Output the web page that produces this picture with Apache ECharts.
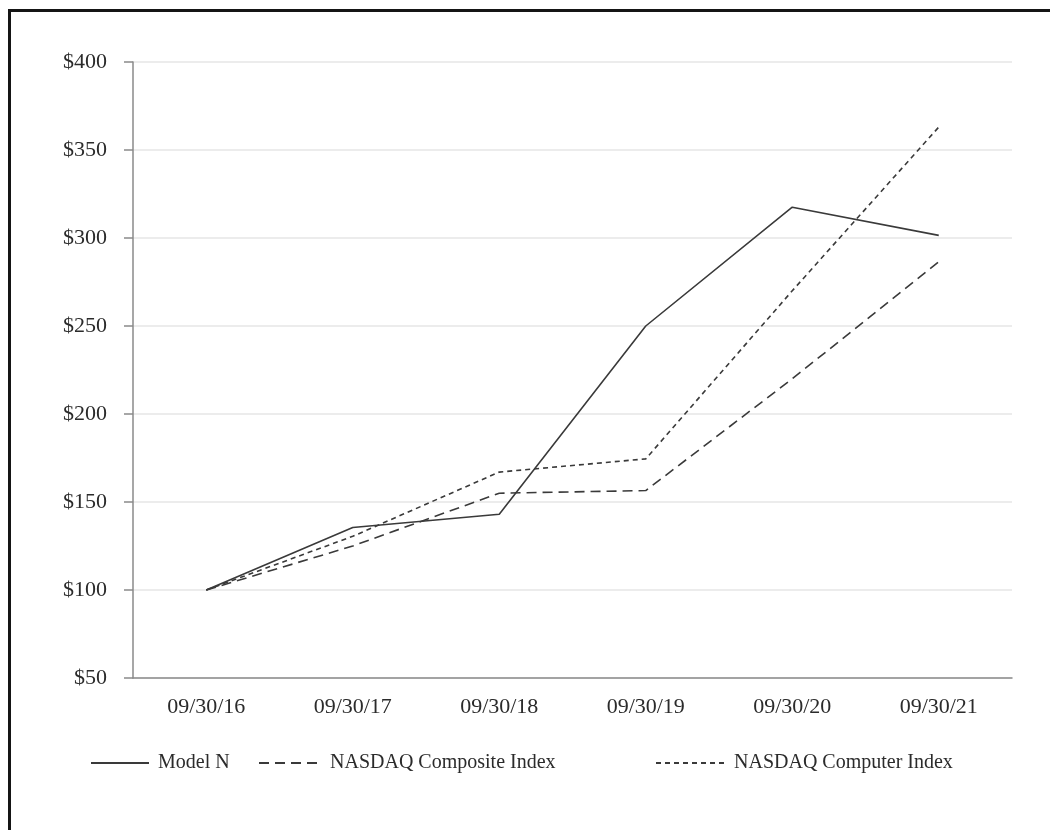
<!DOCTYPE html>
<html>
<head>
<meta charset="utf-8">
<script src="https://cdn.jsdelivr.net/npm/echarts@6/dist/echarts.min.js"></script>
<style>
  html, body { margin: 0; padding: 0; background: #fff; overflow: hidden; }
  #frame {
    position: absolute; left: 8px; top: 9px; width: 1200px; height: 1000px;
    border-left: 3px solid #151515; border-top: 3px solid #151515;
  }
  #chart { position: absolute; left: 0; top: 0; width: 1050px; height: 830px; }
</style>
</head>
<body>
<div id="frame"></div>
<div id="chart"></div>
<script>
// Cumulative total return of a $100 investment
const categories = ['09/30/16', '09/30/17', '09/30/18', '09/30/19', '09/30/20', '09/30/21'];
const modelN = [100, 135.5, 143, 250, 317.5, 301.5];
const nasdaqComposite = [100, 125, 155, 156.5, 220, 286.5];
const nasdaqComputer = [100, 130.5, 167, 174.5, 270, 363];
const seriesNames = ['Model N', 'NASDAQ Composite Index', 'NASDAQ Computer Index'];

const chart = echarts.init(document.getElementById('chart'), null, { renderer: 'canvas' });
const font = '"Liberation Serif", "Times New Roman", serif';
const ink = '#2b2b2b';
const lineInk = '#3a3a3a';

function lineSeries(name, data, dash) {
  return {
    name: name, type: 'line', data: data, symbol: 'none', silent: true,
    lineStyle: { color: lineInk, width: 1.6, type: dash },
    itemStyle: { color: lineInk }
  };
}

const option = {
  backgroundColor: 'transparent',
  animation: false,
  grid: { left: 133, right: 38, top: 62, bottom: 152 },
  legend: [
    { data: [seriesNames[0]], left: 85, itemWidth: 58 },
    { data: [seriesNames[1]], left: 253, itemWidth: 62 },
    { data: [seriesNames[2]], left: 650, itemWidth: 69 }
  ].map(l => Object.assign(l, {
    top: 748, itemHeight: 12, selectedMode: false,
    itemStyle: { opacity: 0, borderWidth: 0 },
    textStyle: { fontFamily: font, fontSize: 20, color: ink, padding: [0, 0, 0, 4] }
  })),
  xAxis: {
    type: 'category', data: categories, boundaryGap: true,
    axisLine: { lineStyle: { color: '#8a8a8a', width: 1.5 } },
    axisTick: { alignWithLabel: true, length: 8, lineStyle: { color: '#8a8a8a', width: 1.5 } },
    axisLabel: { fontFamily: font, fontSize: 22, color: ink, margin: 18 }
  },
  yAxis: {
    type: 'value', min: 50, max: 400, interval: 50,
    axisLine: { show: true, lineStyle: { color: '#8a8a8a', width: 1.5 } },
    axisTick: { show: true, length: 9, lineStyle: { color: '#8a8a8a', width: 1.5 } },
    axisLabel: { fontFamily: font, fontSize: 22, color: ink, margin: 26, formatter: v => '$' + v },
    splitLine: { lineStyle: { color: '#e6e6e6', width: 1.5 } }
  },
  series: [
    lineSeries(seriesNames[0], modelN, 'solid'),
    lineSeries(seriesNames[1], nasdaqComposite, [10, 6]),
    lineSeries(seriesNames[2], nasdaqComputer, [5, 4])
  ]
};
chart.setOption(option);
</script>
</body>
</html>
